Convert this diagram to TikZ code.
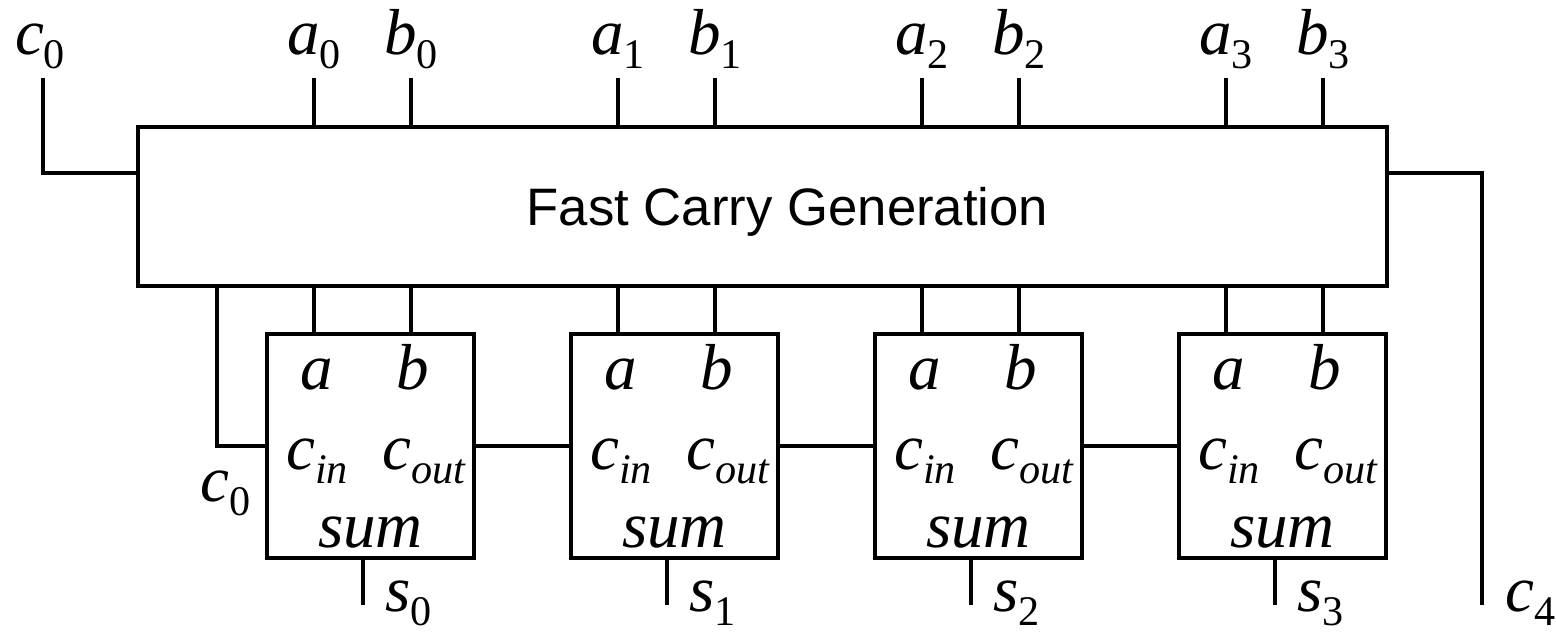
\documentclass[tikz,border=0pt]{standalone}
\usepackage{fontspec}
\setmainfont{Liberation Serif}
\newfontfamily\fcgfont{Liberation Sans}
\usetikzlibrary{positioning}
\newcommand{\idx}[1]{\raisebox{-0.45ex}{\fontsize{12}{12}\selectfont\upshape #1}}

\begin{document}
\begin{tikzpicture}[line width=1.25pt,
    unitbox/.style={draw, minimum width=2.07cm, minimum height=2.24cm, inner sep=0pt},
    sig/.style={inner sep=0pt, anchor=base, font=\fontsize{18.5}{22}\selectfont\itshape}]
    \useasboundingbox (0,0) rectangle (15.56,-6.33);

    \node[draw, minimum width=12.49cm, minimum height=1.59cm] (fcg) at (7.625,-2.065) {};
    \node[text depth=0pt, font=\fcgfont\fontsize{15}{18}\selectfont] (fcgtext) at ([xshift=0.25cm]fcg.center) {Fast Carry Generation};

    \node[unitbox] (add0) at (3.705,-4.46) {};
    \node[unitbox] (add1) at (6.745,-4.46) {};
    \node[unitbox] (add2) at (9.785,-4.46) {};
    \node[unitbox] (add3) at (12.825,-4.46) {};

    % input ends
    \coordinate (tc0) at (0.43,-0.78);
    \coordinate (ta0) at (3.14,-0.78);
    \coordinate (tb0) at (4.11,-0.78);
    \coordinate (ta1) at (6.18,-0.78);
    \coordinate (tb1) at (7.15,-0.78);
    \coordinate (ta2) at (9.22,-0.78);
    \coordinate (tb2) at (10.19,-0.78);
    \coordinate (ta3) at (12.26,-0.78);
    \coordinate (tb3) at (13.23,-0.78);
    % output ends
    \coordinate (ts0) at (3.63,-6.05);
    \coordinate (ts1) at (6.67,-6.05);
    \coordinate (ts2) at (9.71,-6.05);
    \coordinate (ts3) at (12.75,-6.05);
    \coordinate (tc4) at (14.82,-6.05);

    \node[sig] (lc0) at (0.40,-0.55) {c\idx{0}};
    \node[sig] (la0) at (3.14,-0.55) {a\idx{0}};
    \node[sig] (lb0) at (4.11,-0.55) {b\idx{0}};
    \node[sig] (la1) at (6.18,-0.55) {a\idx{1}};
    \node[sig] (lb1) at (7.15,-0.55) {b\idx{1}};
    \node[sig] (la2) at (9.22,-0.55) {a\idx{2}};
    \node[sig] (lb2) at (10.19,-0.55) {b\idx{2}};
    \node[sig] (la3) at (12.26,-0.55) {a\idx{3}};
    \node[sig] (lb3) at (13.23,-0.55) {b\idx{3}};

    \node[sig] (pa0) at ([shift={(-0.535,0.56)}]add0) {a};
    \node[sig] (pb0) at ([shift={(0.425,0.56)}]add0) {b};
    \node[sig] (pcin0) at ([shift={(-0.535,-0.24)}]add0) {c\idx{\itshape in}};
    \node[sig] (pcout0) at ([shift={(0.535,-0.24)}]add0) {c\idx{\itshape out}};
    \node[sig] (psum0) at ([shift={(0,-1.02)}]add0) {sum};

    \node[sig] (pa1) at ([shift={(-0.535,0.56)}]add1) {a};
    \node[sig] (pb1) at ([shift={(0.425,0.56)}]add1) {b};
    \node[sig] (pcin1) at ([shift={(-0.535,-0.24)}]add1) {c\idx{\itshape in}};
    \node[sig] (pcout1) at ([shift={(0.535,-0.24)}]add1) {c\idx{\itshape out}};
    \node[sig] (psum1) at ([shift={(0,-1.02)}]add1) {sum};

    \node[sig] (pa2) at ([shift={(-0.535,0.56)}]add2) {a};
    \node[sig] (pb2) at ([shift={(0.425,0.56)}]add2) {b};
    \node[sig] (pcin2) at ([shift={(-0.535,-0.24)}]add2) {c\idx{\itshape in}};
    \node[sig] (pcout2) at ([shift={(0.535,-0.24)}]add2) {c\idx{\itshape out}};
    \node[sig] (psum2) at ([shift={(0,-1.02)}]add2) {sum};

    \node[sig] (pa3) at ([shift={(-0.535,0.56)}]add3) {a};
    \node[sig] (pb3) at ([shift={(0.425,0.56)}]add3) {b};
    \node[sig] (pcin3) at ([shift={(-0.535,-0.24)}]add3) {c\idx{\itshape in}};
    \node[sig] (pcout3) at ([shift={(0.535,-0.24)}]add3) {c\idx{\itshape out}};
    \node[sig] (psum3) at ([shift={(0,-1.02)}]add3) {sum};

    \node[sig, anchor=base east] (lcin) at ([shift={(-0.12,-0.56)}]add0.west) {c\idx{0}};
    \node[sig, anchor=base west] (ls0) at (3.83,-6.12) {s\idx{0}};
    \node[sig, anchor=base west] (ls1) at (6.87,-6.12) {s\idx{1}};
    \node[sig, anchor=base west] (ls2) at (9.91,-6.12) {s\idx{2}};
    \node[sig, anchor=base west] (ls3) at (12.95,-6.12) {s\idx{3}};
    \node[sig, anchor=base west] (lc4) at (15.03,-6.12) {c\idx{4}};

    % carry in and out
    \draw (tc0) |- ([yshift=-0.48cm]fcg.north west);
    \draw ([yshift=-0.48cm]fcg.north east) -| (tc4);
    \draw ([xshift=0.81cm]fcg.south west) |- (add0.west);

    \draw (ta0) -- (ta0 |- fcg.north);
    \draw (tb0) -- (tb0 |- fcg.north);
    \draw (ta1) -- (ta1 |- fcg.north);
    \draw (tb1) -- (tb1 |- fcg.north);
    \draw (ta2) -- (ta2 |- fcg.north);
    \draw (tb2) -- (tb2 |- fcg.north);
    \draw (ta3) -- (ta3 |- fcg.north);
    \draw (tb3) -- (tb3 |- fcg.north);

    \draw (ta0 |- fcg.south) -- (ta0 |- add0.north);
    \draw (tb0 |- fcg.south) -- (tb0 |- add0.north);
    \draw (ta1 |- fcg.south) -- (ta1 |- add1.north);
    \draw (tb1 |- fcg.south) -- (tb1 |- add1.north);
    \draw (ta2 |- fcg.south) -- (ta2 |- add2.north);
    \draw (tb2 |- fcg.south) -- (tb2 |- add2.north);
    \draw (ta3 |- fcg.south) -- (ta3 |- add3.north);
    \draw (tb3 |- fcg.south) -- (tb3 |- add3.north);

    \draw (add0.east) -- (add1.west);
    \draw (add1.east) -- (add2.west);
    \draw (add2.east) -- (add3.west);

    \draw (ts0 |- add0.south) -- (ts0);
    \draw (ts1 |- add1.south) -- (ts1);
    \draw (ts2 |- add2.south) -- (ts2);
    \draw (ts3 |- add3.south) -- (ts3);
\end{tikzpicture}
\end{document}
